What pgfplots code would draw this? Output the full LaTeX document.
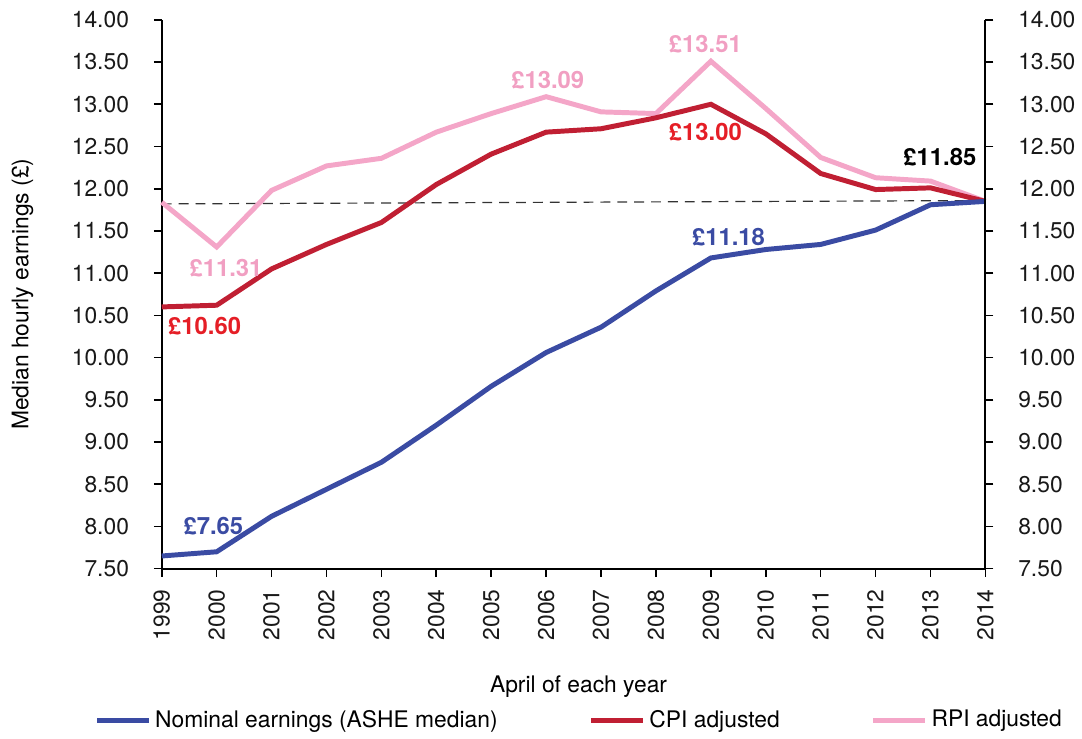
\documentclass[border=0pt]{standalone}
\usepackage{fontspec}
\setmainfont{TeX Gyre Heros}
\usepackage{pgfplots}
\pgfplotsset{compat=1.18}
\definecolor{cblue}{HTML}{3A4BA3}
\definecolor{cred}{HTML}{C01F33}
\definecolor{cpink}{HTML}{F4A6C8}
\definecolor{lred}{HTML}{E51E26}
\definecolor{lpink}{HTML}{F19FC2}
\begin{document}
\begin{tikzpicture}
\pgfplotsset{
  common/.style={
    scale only axis, width=415pt, height=276.5pt,
    xmin=1999, xmax=2014, ymin=7.5, ymax=14,
    ytick={7.5,8,...,14},
    tick align=outside, major tick length=4pt,
    every tick/.style={black, line width=0.8pt},
    axis line style={line width=1pt},
    /pgf/number format/assume math mode=true,
    yticklabel style={/pgf/number format/.cd, fixed, fixed zerofill, precision=2},
    tick label style={font=\fontsize{11.5}{13}\selectfont, color=black!90},
    yticklabel shift=9pt,
    xticklabel shift=3pt,
    clip=false,
  }
}
\begin{axis}[common,
  axis y line*=left, axis x line*=bottom,
  xtick={1999,...,2014},
  xticklabel style={rotate=90, anchor=east, /pgf/number format/1000 sep={}},
  xlabel={April of each year},
  xlabel style={at={(axis description cs:0.506,-0.215)}, anchor=center, font=\fontsize{11.5}{13}\selectfont},
  ylabel={Median hourly earnings (\pounds)},
  ylabel style={at={(axis description cs:-0.169,0.5)}, anchor=center, font=\fontsize{11.5}{13}\selectfont},
  legend columns=3,
  legend style={at={(axis description cs:0.508,-0.276)}, anchor=center, draw=none,
    font=\fontsize{11.5}{13}\selectfont,
    /tikz/every even column/.append style={column sep=44pt}},
  legend image code/.code={\draw[#1] (0pt,0pt) -- (26pt,0pt);},
]
\addlegendimage{cblue, line width=2.5pt}
\addlegendentry{Nominal earnings (ASHE median)}
\addlegendimage{cred, line width=2.5pt}
\addlegendentry{CPI adjusted}
\addlegendimage{cpink, line width=2.5pt}
\addlegendentry{RPI adjusted}

\addplot[forget plot, black!80, line width=0.6pt, dash pattern=on 5pt off 3.5pt] coordinates {(1999,11.82) (2014,11.86)};

\addplot[forget plot, cpink, line width=2.5pt] coordinates {
(1999,11.84) (2000,11.31) (2001,11.98) (2002,12.27) (2003,12.36) (2004,12.67)
(2005,12.89) (2006,13.09) (2007,12.91) (2008,12.89) (2009,13.51) (2010,12.95)
(2011,12.37) (2012,12.13) (2013,12.09) (2014,11.85)};

\addplot[forget plot, cred, line width=2.5pt] coordinates {
(1999,10.60) (2000,10.62) (2001,11.05) (2002,11.34) (2003,11.60) (2004,12.05)
(2005,12.41) (2006,12.67) (2007,12.71) (2008,12.84) (2009,13.00) (2010,12.65)
(2011,12.18) (2012,11.99) (2013,12.01) (2014,11.85)};

\addplot[forget plot, cblue, line width=2.5pt] coordinates {
(1999,7.65) (2000,7.70) (2001,8.12) (2002,8.44) (2003,8.76) (2004,9.20)
(2005,9.66) (2006,10.06) (2007,10.36) (2008,10.79) (2009,11.18) (2010,11.28)
(2011,11.34) (2012,11.51) (2013,11.81) (2014,11.85)};

\begin{scope}[every node/.style={font=\fontsize{12}{14}\selectfont\bfseries}]
\node[cblue] at (axis cs:1999.94,8.00) {\pounds7.65};
\node[lpink] at (axis cs:2000.17,11.06) {\pounds11.31};
\node[lred] at (axis cs:1999.78,10.37) {\pounds10.60};
\node[lpink] at (axis cs:2006.03,13.29) {\pounds13.09};
\node[lpink] at (axis cs:2008.90,13.71) {\pounds13.51};
\node[lred] at (axis cs:2008.90,12.67) {\pounds13.00};
\node[cblue] at (axis cs:2009.32,11.43) {\pounds11.18};
\node[black] at (axis cs:2013.17,12.37) {\pounds11.85};
\end{scope}
\path (axis description cs:0,0) ++(-81.5pt,-82.5pt);
\path (axis description cs:1,1) ++(44.5pt,10pt);
\end{axis}
\begin{axis}[common,
  axis y line*=right, axis x line=none,
]
\end{axis}
\end{tikzpicture}
\end{document}
